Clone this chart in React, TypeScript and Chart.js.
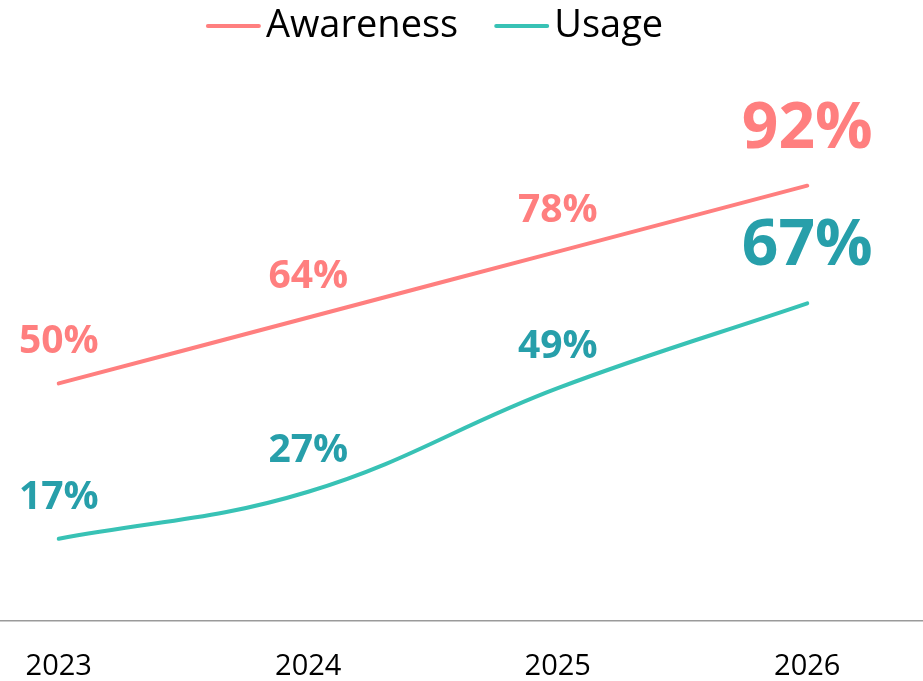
import React, { useEffect, useRef } from "react";
import { Chart, registerables } from "chart.js";

Chart.register(...registerables);

const years = ["2023", "2024", "2025", "2026"];
const awareness = [50, 64, 78, 92];
const usage = [17, 27, 49, 67];
const seriesNames = ["Awareness", "Usage"];
const lineColors = ["#FF7F7F", "#38C2B5"];
const labelColors = ["#FF7F7F", "#279FAA"];

const FONT = '"Open Sans", sans-serif';

const valueLabels = {
  id: "valueLabels",
  afterDatasetsDraw(chart: any) {
    const ctx = chart.ctx;
    ctx.save();
    chart.data.datasets.forEach((ds: any, di: number) => {
      const meta = chart.getDatasetMeta(di);
      meta.data.forEach((pt: any, i: number) => {
        const last = i === ds.data.length - 1;
        ctx.font = `bold ${last ? 64 : 39}px ${FONT}`;
        ctx.fillStyle = labelColors[di];
        ctx.textAlign = "center";
        ctx.textBaseline = "alphabetic";
        ctx.fillText(ds.data[i] + "%", pt.x, pt.y - (last ? 38 : 30));
      });
    });
    ctx.restore();
  },
};

const customLegend = {
  id: "customLegend",
  afterDraw(chart: any) {
    const ctx = chart.ctx;
    ctx.save();
    ctx.font = `38px ${FONT}`;
    const lineW = 55;
    const gapText = 5;
    const gapItem = 36;
    const items = chart.data.datasets.map((d: any, i: number) => ({
      text: d.label,
      color: lineColors[i],
      w: lineW + gapText + ctx.measureText(d.label).width,
    }));
    const total = items.reduce((s: number, it: any) => s + it.w, 0) + gapItem * (items.length - 1);
    let x = chart.width / 2 - total / 2;
    const y = 26;
    items.forEach((it: any) => {
      ctx.strokeStyle = it.color;
      ctx.lineWidth = 4;
      ctx.lineCap = "round";
      ctx.beginPath();
      ctx.moveTo(x + 2, y);
      ctx.lineTo(x + lineW - 2, y);
      ctx.stroke();
      ctx.fillStyle = "#000";
      ctx.textAlign = "left";
      ctx.textBaseline = "alphabetic";
      ctx.fillText(it.text, x + lineW + gapText, 37);
      x += it.w + gapItem;
    });
    ctx.restore();
  },
};

function LineChart() {
  const ref = useRef<HTMLCanvasElement>(null);
  useEffect(() => {
    if (!ref.current) return;
    const chart = new Chart(ref.current, {
      type: "line",
      data: {
        labels: years,
        datasets: [
          {
            label: seriesNames[0],
            data: awareness,
            borderColor: lineColors[0],
            backgroundColor: lineColors[0],
            borderWidth: 4,
            pointRadius: 0,
            tension: 0.4,
            borderCapStyle: "round",
          },
          {
            label: seriesNames[1],
            data: usage,
            borderColor: lineColors[1],
            backgroundColor: lineColors[1],
            borderWidth: 4,
            pointRadius: 0,
            tension: 0.4,
            borderCapStyle: "round",
          },
        ],
      },
      options: {
        animation: false,
        responsive: false,
        maintainAspectRatio: false,
        layout: { padding: { left: 4, right: 7, top: 148, bottom: 0 } },
        plugins: {
          legend: { display: false },
          tooltip: { enabled: false },
        },
        scales: {
          x: {
            offset: true,
            grid: { display: false, drawTicks: false },
            border: { display: true, color: "#9a9a9a", width: 1.5 },
            ticks: {
              color: "#000",
              padding: 28,
              font: { family: FONT, size: 29 },
            },
          },
          y: {
            display: false,
            min: -0.5,
            max: 100,
          },
        },
      },
      plugins: [valueLabels, customLegend],
    });
    return () => chart.destroy();
  }, []);
  return (
    <canvas
      ref={ref}
      width={1009}
      height={712}
      style={{ position: "absolute", left: -70, top: 0, width: 1009, height: 712 }}
    />
  );
}

export default function App() {
  useEffect(() => {
    document.body.style.margin = "0";
    document.body.style.overflow = "hidden";
  }, []);
  return (
    <div style={{ position: "relative", width: 923, height: 681, overflow: "hidden", background: "#fff" }}>
      <LineChart />
    </div>
  );
}
